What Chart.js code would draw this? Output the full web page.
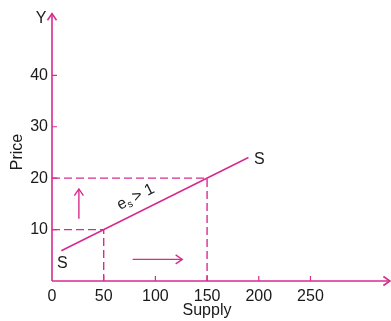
<!DOCTYPE html>
<html>
<head>
<meta charset="utf-8">
<script src="https://cdn.jsdelivr.net/npm/chart.js@4/dist/chart.umd.min.js"></script>
<style>
  html, body { margin: 0; padding: 0; background: #fff; }
  #wrap { width: 391px; height: 321px; position: relative; }
</style>
</head>
<body>
<div id="wrap"><canvas id="chart"></canvas></div>
<script>
// supply curve S (quantity, price)
var supplyX = [9, 190];
var supplyY = [5.9, 24];
// guide points on the curve
var guideX = [50, 150];
var guideY = [10, 20];
// movement arrows [x0, y0, x1, y1]
var upArrow = [26, 12.1, 26, 17.9];
var rightArrow = [78, 4.2, 126, 4.2];
var xTicks = [0, 50, 100, 150, 200, 250];
var yTicks = [10, 20, 30, 40];

var pink = 'rgb(214, 44, 142)';
var font = '"Liberation Sans", Arial, sans-serif';

function pts(xs, ys) {
    var out = [];
    for (var i = 0; i < xs.length; i++) {
        out.push({x: xs[i], y: ys[i]});
    }
    return out;
}

var datasets = [{
    data: pts(supplyX, supplyY),
    borderColor: pink, borderWidth: 1.6, pointRadius: 0, showLine: true
}];
for (var i = 0; i < guideX.length; i++) {
    datasets.push({
        data: [{x: 0, y: guideY[i]}, {x: guideX[i], y: guideY[i]}, {x: guideX[i], y: 0}],
        borderColor: pink, borderWidth: 1.4, borderDash: [8, 4], pointRadius: 0, showLine: true
    });
}
[upArrow, rightArrow].forEach(function (a) {
    datasets.push({
        data: [{x: a[0], y: a[1]}, {x: a[2], y: a[3]}],
        borderColor: pink, borderWidth: 1.4, pointRadius: 0, showLine: true
    });
});

function arrowHead(ctx, x, y, ang, size) {
    ctx.beginPath();
    ctx.moveTo(x - size * Math.cos(ang - 0.6), y - size * Math.sin(ang - 0.6));
    ctx.lineTo(x, y);
    ctx.lineTo(x - size * Math.cos(ang + 0.6), y - size * Math.sin(ang + 0.6));
    ctx.stroke();
}

var decorations = {
    id: 'decorations',
    afterDatasetsDraw: function (chart) {
        var ctx = chart.ctx, a = chart.chartArea;
        var xs = chart.scales.x, ys = chart.scales.y;
        ctx.save();
        ctx.strokeStyle = pink;
        ctx.lineWidth = 1.6;
        // axes
        ctx.beginPath();
        ctx.moveTo(a.left, a.bottom);
        ctx.lineTo(a.left, a.top);
        ctx.moveTo(a.left, a.bottom);
        ctx.lineTo(390, a.bottom);
        ctx.stroke();
        arrowHead(ctx, a.left, a.top, -Math.PI / 2, 8);
        arrowHead(ctx, 390, a.bottom, 0, 8);
        // inward tick marks
        ctx.lineWidth = 1.2;
        ctx.beginPath();
        xTicks.forEach(function (v) {
            if (v === 0) return;
            var px = xs.getPixelForValue(v);
            ctx.moveTo(px, a.bottom);
            ctx.lineTo(px, a.bottom - 5);
        });
        yTicks.forEach(function (v) {
            var py = ys.getPixelForValue(v);
            ctx.moveTo(a.left, py);
            ctx.lineTo(a.left + 5, py);
        });
        ctx.stroke();
        // arrow heads on movement arrows
        ctx.lineWidth = 1.4;
        [upArrow, rightArrow].forEach(function (r) {
            var x0 = xs.getPixelForValue(r[0]), y0 = ys.getPixelForValue(r[1]);
            var x1 = xs.getPixelForValue(r[2]), y1 = ys.getPixelForValue(r[3]);
            arrowHead(ctx, x1, y1, Math.atan2(y1 - y0, x1 - x0), 8);
        });
        // text
        ctx.fillStyle = '#1a1a1a';
        ctx.textAlign = 'center';
        ctx.textBaseline = 'middle';
        ctx.font = '16px ' + font;
        ctx.fillText('Y', 41, 19);
        ctx.fillText('Supply', 207, 311);
        ctx.fillText('S', xs.getPixelForValue(supplyX[0]) + 1, ys.getPixelForValue(supplyY[0]) + 13);
        ctx.fillText('S', xs.getPixelForValue(supplyX[1]) + 11, ys.getPixelForValue(supplyY[1]) + 2);
        ctx.save();
        ctx.translate(18, 152);
        ctx.rotate(-Math.PI / 2);
        ctx.fillText('Price', 0, 0);
        ctx.restore();
        // elasticity label along the curve
        ctx.save();
        ctx.translate(136, 197);
        ctx.rotate(-Math.atan(0.5));
        ctx.textAlign = 'left';
        ctx.font = '16px ' + font;
        ctx.fillText('e', -20, 0);
        ctx.font = '10px ' + font;
        ctx.fillText('s', -11, 4);
        ctx.font = '16px ' + font;
        ctx.fillText('> 1', -3, 0);
        ctx.restore();
        ctx.restore();
    }
};

new Chart(document.getElementById('chart'), {
    type: 'scatter',
    data: {datasets: datasets},
    options: {
        responsive: true,
        maintainAspectRatio: false,
        animation: false,
        layout: {padding: {top: 13, right: 3, left: 0, bottom: 0}},
        plugins: {legend: {display: false}, tooltip: {enabled: false}},
        scales: {
            x: {
                type: 'linear', min: 0, max: 325,
                afterFit: function (s) { s.height = 40; },
                afterBuildTicks: function (s) {
                    s.ticks = xTicks.map(function (v) { return {value: v}; });
                },
                grid: {display: false, drawTicks: false},
                border: {display: false},
                ticks: {color: '#1a1a1a', font: {size: 16, family: font}, padding: 6, maxRotation: 0}
            },
            y: {
                type: 'linear', min: 0, max: 52,
                afterFit: function (s) { s.width = 52; },
                afterBuildTicks: function (s) {
                    s.ticks = yTicks.map(function (v) { return {value: v}; });
                },
                grid: {display: false, drawTicks: false},
                border: {display: false},
                ticks: {color: '#1a1a1a', font: {size: 16, family: font}, padding: 4}
            }
        }
    },
    plugins: [decorations]
});
</script>
</body>
</html>
